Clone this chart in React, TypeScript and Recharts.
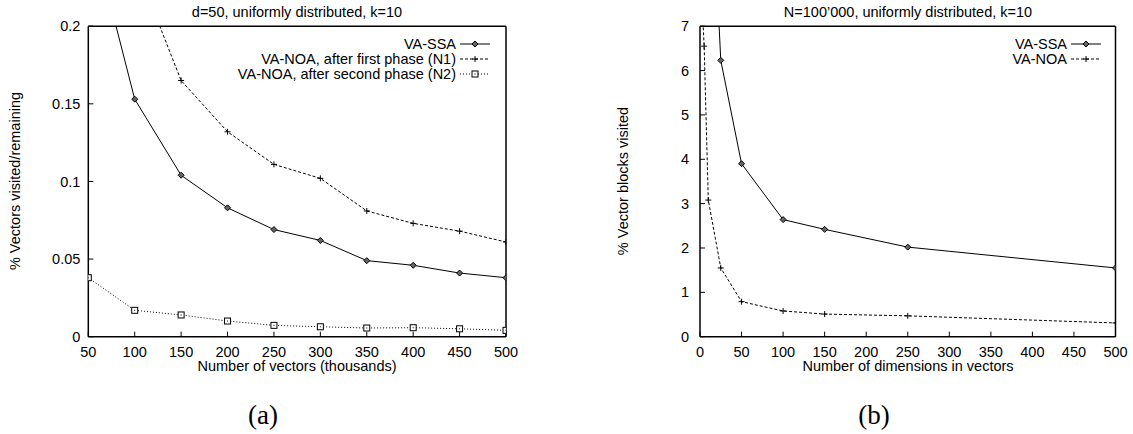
import React from "react";
import { LineChart, Line, XAxis, YAxis, Legend } from "recharts";

// (a) d=50, x = number of vectors (thousands)
const vectorsK = [50, 100, 150, 200, 250, 300, 350, 400, 450, 500];
const ssaByVectors = [0.27, 0.153, 0.104, 0.083, 0.069, 0.062, 0.049, 0.046, 0.041, 0.038];
const noaN1ByVectors = [0.43, 0.241, 0.165, 0.132, 0.111, 0.102, 0.081, 0.073, 0.068, 0.061];
const noaN2ByVectors = [0.038, 0.017, 0.014, 0.0101, 0.0073, 0.0064, 0.0056, 0.0058, 0.0051, 0.0041];
const vectorTicks = [50, 100, 150, 200, 250, 300, 350, 400, 450, 500];
const fractionTicks = [0, 0.05, 0.1, 0.15, 0.2];

// (b) N=100'000, x = number of dimensions
const ssaDims = [10, 25, 50, 100, 150, 250, 500];
const ssaByDims = [12.0, 6.23, 3.9, 2.64, 2.42, 2.02, 1.55];
const noaDims = [1, 5, 10, 25, 50, 100, 150, 250, 500];
const noaByDims = [8.1, 6.55, 3.08, 1.55, 0.79, 0.58, 0.51, 0.47, 0.31];
const dimTicks = [0, 50, 100, 150, 200, 250, 300, 350, 400, 450, 500];
const blockTicks = [0, 1, 2, 3, 4, 5, 6, 7];

const namesA = ["VA-SSA", "VA-NOA, after first phase (N1)", "VA-NOA, after second phase (N2)"];
const namesB = ["VA-SSA", "VA-NOA"];

const FONT = '"Liberation Sans", Arial, sans-serif';
const FS = 14.5;

type Pt = { cx?: number; cy?: number };

function Diamond({ cx, cy }: Pt) {
  if (cx == null || cy == null) return <g />;
  const r = 3;
  return (
    <path
      d={`M${cx},${cy - r}L${cx + r},${cy}L${cx},${cy + r}L${cx - r},${cy}Z`}
      fill="#666"
      stroke="#000"
      strokeWidth={1}
    />
  );
}

function Plus({ cx, cy }: Pt) {
  if (cx == null || cy == null) return <g />;
  const r = 3;
  return (
    <path d={`M${cx - r},${cy}H${cx + r}M${cx},${cy - r}V${cy + r}`} stroke="#000" strokeWidth={1} />
  );
}

function Square({ cx, cy }: Pt) {
  if (cx == null || cy == null) return <g />;
  const r = 3;
  return (
    <g>
      <rect x={cx - r} y={cy - r} width={2 * r} height={2 * r} fill="#fff" stroke="#000" strokeWidth={1} />
      <rect x={cx - 0.5} y={cy - 0.5} width={1} height={1} fill="#000" />
    </g>
  );
}

const seriesStyle: Record<string, { dash?: string; Marker: (p: Pt) => React.ReactElement }> = {
  "VA-SSA": { Marker: Diamond },
  "VA-NOA, after first phase (N1)": { dash: "3 2", Marker: Plus },
  "VA-NOA, after second phase (N2)": { dash: "1 2", Marker: Square },
  "VA-NOA": { dash: "3 2", Marker: Plus },
};

// gnuplot-style key: text right-aligned, sample line + marker after it
function KeyBox({ names }: { names: string[] }) {
  return (
    <div>
      {names.map((n) => {
        const s = seriesStyle[n];
        const M = s.Marker;
        return (
          <div
            key={n}
            style={{ display: "flex", justifyContent: "flex-end", alignItems: "center", height: 15 }}
          >
            <span style={{ fontFamily: FONT, fontSize: FS, color: "#000", whiteSpace: "nowrap" }}>{n}</span>
            <svg width={30} height={10} style={{ marginLeft: 4 }}>
              <line x1={0} y1={5} x2={30} y2={5} stroke="#000" strokeWidth={1} strokeDasharray={s.dash} />
              <M cx={15} cy={5} />
            </svg>
          </div>
        );
      })}
    </div>
  );
}

const dotFor = (name: string) => (p: any) => {
  const M = seriesStyle[name].Marker;
  return <M key={p.index} cx={p.cx} cy={p.cy} />;
};

const axisLine = { stroke: "#000", strokeWidth: 1.5 };
const tickLine = { stroke: "#000", strokeWidth: 1 };
const tickText = { fill: "#000", fontSize: FS, fontFamily: FONT };

const rowsA = vectorsK.map((n, i) => ({
  n,
  ssa: ssaByVectors[i],
  n1: noaN1ByVectors[i],
  n2: noaN2ByVectors[i],
}));
const ssaRowsB = ssaDims.map((d, i) => ({ d, v: ssaByDims[i] }));
const noaRowsB = noaDims.map((d, i) => ({ d, v: noaByDims[i] }));

function Txt({ x, y, children, rotate, serif, size }: any) {
  return (
    <div
      style={{
        position: "absolute",
        left: x,
        top: y,
        transform: `translate(-50%, -50%)${rotate ? " rotate(-90deg)" : ""}`,
        fontFamily: serif ? '"Liberation Serif", serif' : FONT,
        fontSize: size ?? FS,
        whiteSpace: "nowrap",
        color: "#000",
        lineHeight: 1,
      }}
    >
      {children}
    </div>
  );
}

// four-sided frame with inward ticks; labels only on bottom/left
function FramedAxes({ xKey, xDomain, xTicks, yDomain, yTicks, yMargin }: any) {
  return [
    <XAxis
      key="xb"
      xAxisId="b"
      dataKey={xKey}
      type="number"
      domain={xDomain}
      ticks={xTicks}
      interval={0}
      allowDataOverflow
      height={25}
      tickSize={-5}
      tickMargin={15}
      axisLine={axisLine}
      tickLine={tickLine}
      tick={tickText}
    />,
    <XAxis
      key="xt"
      xAxisId="t"
      orientation="top"
      dataKey={xKey}
      type="number"
      domain={xDomain}
      ticks={xTicks}
      interval={0}
      allowDataOverflow
      height={1}
      tickSize={-5}
      axisLine={axisLine}
      tickLine={tickLine}
      tick={false}
    />,
    <YAxis
      key="yl"
      yAxisId="l"
      type="number"
      domain={yDomain}
      ticks={yTicks}
      interval={0}
      allowDataOverflow
      width={40}
      tickSize={-5}
      tickMargin={yMargin}
      axisLine={axisLine}
      tickLine={tickLine}
      tick={tickText}
    />,
    <YAxis
      key="yr"
      yAxisId="r"
      orientation="right"
      type="number"
      domain={yDomain}
      ticks={yTicks}
      interval={0}
      allowDataOverflow
      width={1}
      tickSize={-5}
      axisLine={axisLine}
      tickLine={tickLine}
      tick={false}
    />,
  ];
}

export default function App() {
  return (
    <div style={{ position: "absolute", left: 0, top: 0, width: 1133, height: 434, background: "#fff" }}>
      <div style={{ position: "absolute", left: 0, top: 0 }}>
        <LineChart width={566} height={434} data={rowsA} margin={{ top: 25.2, right: 59, bottom: 72.3, left: 48.3 }}>
          {FramedAxes({
            xKey: "n",
            xDomain: [50, 500],
            xTicks: vectorTicks,
            yDomain: [0, 0.2],
            yTicks: fractionTicks,
            yMargin: 13,
          })}
          <Line
            xAxisId="b"
            yAxisId="l"
            dataKey="ssa"
            name={namesA[0]}
            stroke="#000"
            strokeWidth={1}
            dot={dotFor(namesA[0])}
            isAnimationActive={false}
          />
          <Line
            xAxisId="b"
            yAxisId="l"
            dataKey="n1"
            name={namesA[1]}
            stroke="#000"
            strokeWidth={1}
            strokeDasharray={seriesStyle[namesA[1]].dash}
            dot={dotFor(namesA[1])}
            isAnimationActive={false}
          />
          <Line
            xAxisId="b"
            yAxisId="l"
            dataKey="n2"
            name={namesA[2]}
            stroke="#000"
            strokeWidth={1}
            strokeDasharray={seriesStyle[namesA[2]].dash}
            dot={dotFor(namesA[2])}
            isAnimationActive={false}
          />
          <Legend
            layout="vertical"
            align="center"
            verticalAlign="middle"
            wrapperStyle={{ top: 36.5, right: 76, left: "auto", width: "auto", height: "auto" }}
            content={() => <KeyBox names={namesA} />}
          />
        </LineChart>
      </div>
      <div style={{ position: "absolute", left: 566, top: 0 }}>
        <LineChart width={567} height={434} margin={{ top: 25.2, right: 16.5, bottom: 72.3, left: 94 }}>
          {FramedAxes({
            xKey: "d",
            xDomain: [0, 500],
            xTicks: dimTicks,
            yDomain: [0, 7],
            yTicks: blockTicks,
            yMargin: 16,
          })}
          <Line
            xAxisId="b"
            yAxisId="l"
            data={ssaRowsB}
            dataKey="v"
            name={namesB[0]}
            stroke="#000"
            strokeWidth={1}
            dot={dotFor(namesB[0])}
            isAnimationActive={false}
          />
          <Line
            xAxisId="b"
            yAxisId="l"
            data={noaRowsB}
            dataKey="v"
            name={namesB[1]}
            stroke="#000"
            strokeWidth={1}
            strokeDasharray={seriesStyle[namesB[1]].dash}
            dot={dotFor(namesB[1])}
            isAnimationActive={false}
          />
          <Legend
            layout="vertical"
            align="center"
            verticalAlign="middle"
            wrapperStyle={{ top: 36.5, right: 32, left: "auto", width: "auto", height: "auto" }}
            content={() => <KeyBox names={namesB} />}
          />
        </LineChart>
      </div>

      <Txt x={297} y={12}>d=50, uniformly distributed, k=10</Txt>
      <Txt x={908} y={12}>N=100’000, uniformly distributed, k=10</Txt>
      <Txt x={297} y={366}>Number of vectors (thousands)</Txt>
      <Txt x={908} y={366}>Number of dimensions in vectors</Txt>
      <Txt x={15} y={181} rotate>% Vectors visited/remaining</Txt>
      <Txt x={623} y={181} rotate>% Vector blocks visited</Txt>
      <Txt x={263} y={415} serif size={27}>(a)</Txt>
      <Txt x={874} y={415} serif size={27}>(b)</Txt>
    </div>
  );
}
